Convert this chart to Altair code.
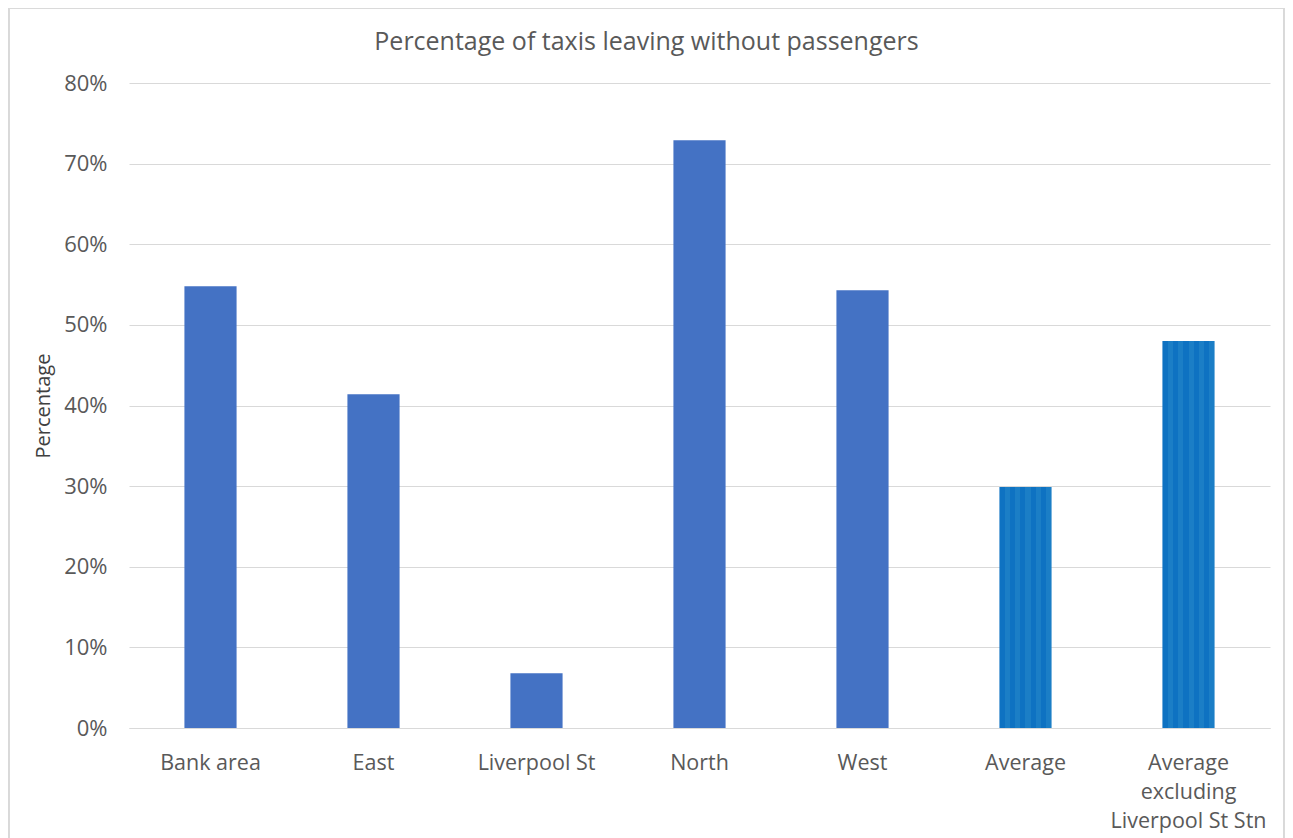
import altair as alt
import pandas as pd

categories = ["Bank area", "East", "Liverpool St", "North", "West", "Average",
              "Average excluding Liverpool St Stn"]
values = [0.548, 0.414, 0.068, 0.729, 0.543, 0.299, 0.480]
kinds = ["area", "area", "area", "area", "area", "avg", "avg"]

df = pd.DataFrame({"cat": categories, "val": values, "kind": kinds})

stops = []
c1, c2 = "#0E72C2", "#1B7EC6"
n = 10
for i in range(n):
    col = c1 if i % 2 == 0 else c2
    stops.append({"offset": i / n, "color": col})
    stops.append({"offset": (i + 1) / n, "color": col})
stripe = {"x1": 0, "x2": 1, "y1": 0, "y2": 0, "gradient": "linear", "stops": stops}

FONT = "Open Sans"
GREY = "#595959"

x = alt.X("cat:N", sort=categories, title=None,
          scale=alt.Scale(paddingInner=0.68, paddingOuter=0.34),
          axis=alt.Axis(labelAngle=0, labelFontSize=21.5, labelColor=GREY, labelFont=FONT,
                        ticks=False, domainColor="#d9d9d9", labelPadding=24,
                        labelLineHeight=29, labelBaseline="top",
                        labelExpr="datum.label == 'Average excluding Liverpool St Stn' ? ['Average','excluding','Liverpool St Stn'] : datum.label"))
y = alt.Y("val:Q", title="Percentage",
          scale=alt.Scale(domain=[0, 0.8], nice=False),
          axis=alt.Axis(format=".0%", values=[0, 0.1, 0.2, 0.3, 0.4, 0.5, 0.6, 0.7, 0.8],
                        labelFontSize=22, labelColor=GREY, labelFont=FONT, ticks=False,
                        domain=False, gridColor="#d9d9d9", labelPadding=22,
                        titleFontSize=20, titleFont=FONT, titleColor="#404040",
                        titleFontWeight="normal", titlePadding=10))

bars_area = alt.Chart(df).transform_filter("datum.kind == 'area'").mark_bar(
    color="#4472C4").encode(x=x, y=y)
bars_avg = alt.Chart(df).transform_filter("datum.kind == 'avg'").mark_bar(
    color=stripe).encode(x=x, y=y)

border = alt.Chart(df).mark_rect(fill=None, stroke="#d9d9d9", strokeWidth=1).encode(
    x=alt.value(-120), x2=alt.value(1155), y=alt.value(-75), y2=alt.value(790))

chart = alt.layer(border, bars_area, bars_avg).properties(
    width=1141, height=645,
    title=alt.TitleParams("Percentage of taxis leaving without passengers",
                          fontSize=25, font=FONT, color=GREY, fontWeight="normal",
                          anchor="middle", frame="bounds", offset=-47),
    padding={"left": 121, "top": 75, "right": 15, "bottom": 110},
    autosize="none",
).configure_view(stroke=None)

chart.save("out.html", embed_options={"renderer": "svg", "actions": False})
